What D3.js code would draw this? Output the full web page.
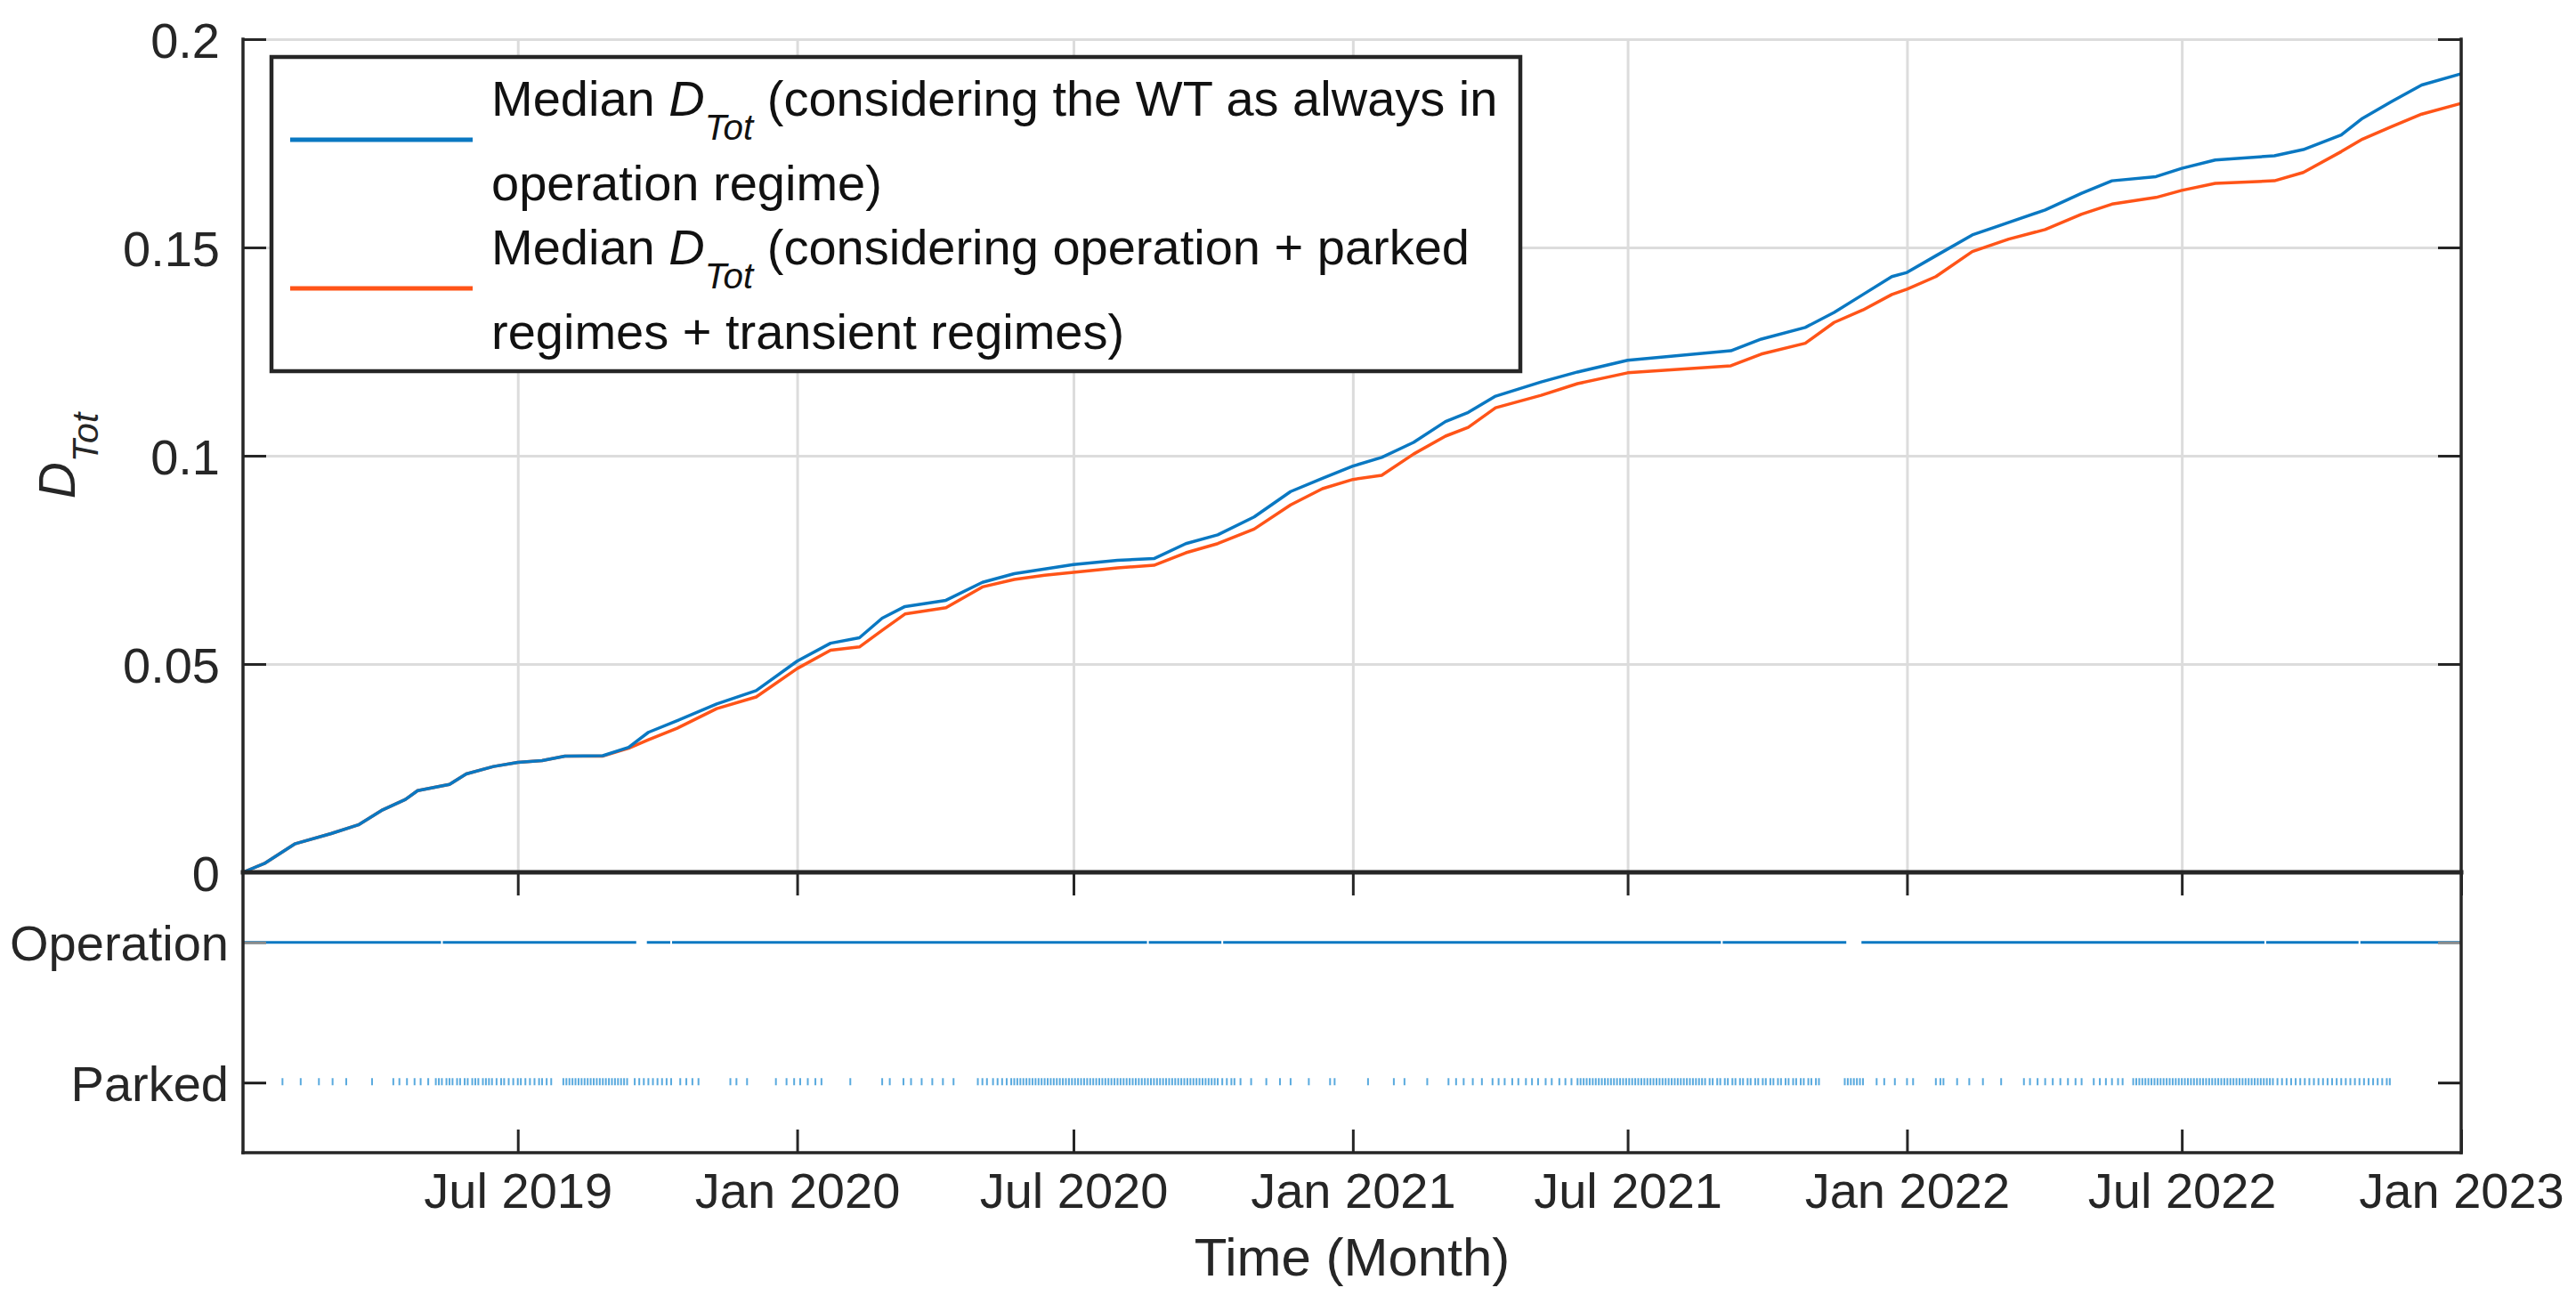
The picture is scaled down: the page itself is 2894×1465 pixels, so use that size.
<!DOCTYPE html>
<html>
<head>
<meta charset="utf-8">
<script src="https://cdn.jsdelivr.net/npm/d3@7"></script>
<style>
  html, body { margin: 0; padding: 0; background: #fff; }
  svg { display: block; font-family: "Liberation Sans", Arial, Helvetica, sans-serif; }
</style>
</head>
<body>
<svg id="chart" width="2894" height="1465"></svg>
<script>
// ---------------- DATA ----------------
const dates = [
  "2019-01-01","2019-01-15","2019-02-04","2019-02-28","2019-03-18","2019-04-03","2019-04-18","2019-04-26","2019-05-17","2019-05-28",
  "2019-06-15","2019-07-01","2019-07-17","2019-08-01","2019-08-26","2019-09-12","2019-09-25","2019-10-14","2019-11-09","2019-12-05",
  "2020-01-01","2020-01-23","2020-02-11","2020-02-26","2020-03-12","2020-04-08","2020-05-02","2020-05-23","2020-06-12","2020-07-01",
  "2020-07-30","2020-08-23","2020-09-13","2020-10-04","2020-10-28","2020-11-21","2020-12-12",
  "2021-01-01","2021-01-20","2021-02-10","2021-03-03","2021-03-18","2021-04-05","2021-05-05","2021-05-29","2021-07-01","2021-09-07",
  "2021-09-27","2021-10-26","2021-11-14","2021-12-03","2021-12-22",
  "2022-01-01","2022-01-20","2022-02-13","2022-03-09","2022-04-02","2022-04-26","2022-05-16","2022-06-14","2022-07-01","2022-07-23",
  "2022-08-31","2022-09-19","2022-10-14","2022-10-28","2022-11-16","2022-12-06",
  "2023-01-01"
];
const medianOperation = [
  0,0.0021,0.0068,0.0093,0.0114,0.015,0.0175,0.0196,0.0211,0.0236,
  0.0254,0.0264,0.0268,0.0279,0.0280,0.0300,0.0336,0.0364,0.0404,0.0436,
  0.0507,0.0550,0.0563,0.0610,0.0638,0.0653,0.0696,0.0717,0.0728,0.0739,
  0.0749,0.0753,0.0789,0.0810,0.0853,0.0914,0.0946,
  0.0975,0.0996,0.1032,0.1082,0.1104,0.1143,0.1177,0.1201,0.1229,0.1252,
  0.1280,0.1308,0.1344,0.1387,0.1430,
  0.1440,0.1480,0.1530,0.1560,0.1590,0.1630,0.1660,0.1670,0.1690,0.1710,
  0.1720,0.1735,0.1770,0.1810,0.1850,0.1890,
  0.1917
];
const medianAllRegimes = [
  0,0.0021,0.0068,0.0093,0.0114,0.015,0.0175,0.0196,0.0211,0.0236,
  0.0254,0.0264,0.0268,0.0279,0.0279,0.0298,0.0318,0.0346,0.0393,0.0421,
  0.0489,0.0533,0.0541,0.0581,0.0620,0.0635,0.0685,0.0703,0.0713,0.0720,
  0.0731,0.0737,0.0767,0.0789,0.0824,0.0882,0.0921,
  0.0943,0.0953,0.1004,0.1047,0.1068,0.1115,0.1145,0.1173,0.1199,0.1216,
  0.1244,0.1270,0.1320,0.1350,0.1387,
  0.1400,0.1430,0.1490,0.1520,0.1543,0.1580,0.1604,0.1620,0.1637,0.1654,
  0.1660,0.1680,0.1730,0.1760,0.1790,0.1820,
  0.1846
];
const yTicks = [0, 0.05, 0.1, 0.15, 0.2];
const yTickLabels = ["0", "0.05", "0.1", "0.15", "0.2"];
const xTickDates = ["2019-07-01","2020-01-01","2020-07-01","2021-01-01","2021-07-01","2022-01-01","2022-07-01","2023-01-01"];
const xTickLabels = ["Jul 2019","Jan 2020","Jul 2020","Jan 2021","Jul 2021","Jan 2022","Jul 2022","Jan 2023"];
const stateLabels = ["Operation", "Parked"];
// days since 2019-01-01 where the operation line is interrupted [start, end]
const operationGaps = [[130.4,131.6],[259,266],[281.4,282.6],[595.4,596.6],[644.4,645.6],[973.4,974.6],[1056,1066],[1331.4,1332.6],[1393.4,1394.6]];
// days since 2019-01-01 where the turbine is in parked regime
const parkedDays = [
  26,38,50,59,68,85,99,103,108,113,117,122,
  127,129,131,134,136,138,141,143,146,148,151,153,155,158,160,
  162,164,167,170,172,175,178,181,183,186,189,192,195,197,200,203,
  211,213,215,217,219,221,223,225,227,229,231,233,235,237,239,241,243,245,247,249,251,253,
  258,261,264,267,270,273,276,279,282,
  288,292,296,300,
  321,325,332,
  351,358,363,367,372,377,381,
  400,
  421,426,435,440,447,454,461,468,
  484,487,490,494,497,500,503,506,508,510,512,514,516,518,520,522,524,526,528,530,532,534,536,538,540,
  542,544,546,548,550,552,554,556,558,560,562,564,566,568,570,572,574,576,578,580,582,584,586,588,590,
  592,594,596,598,600,602,604,606,608,610,612,614,616,618,620,622,624,626,628,630,632,634,636,638,640,
  642,645,648,651,653,
  657,664,674,683,690,702,716,
  719,741,758,765,780,
  794,799,804,810,816,
  823,827,831,836,840,845,849,853,858,862,867,871,875,879,
  881,883,885,887,889,891,893,895,897,899,901,903,905,907,909,911,913,915,917,919,921,923,925,927,929,
  931,933,935,937,939,941,943,945,947,949,951,953,955,957,959,961,
  963,966,968,971,973,976,978,981,983,986,988,991,993,996,998,1001,1003,1006,1008,1011,1013,1016,1018,
  1021,1023,1026,1028,1031,1033,1036,1038,
  1055,1057,1059,1061,1063,1065,1067,
  1076,1081,1088,1096,1100,
  1115,1118,1120,
  1129,1137,1146,1158,
  1173,1177,1182,1187,1192,1197,1202,1207,1211,
  1219,1223,1227,1231,1235,1238,
  1245,1247,1249,1251,1253,1255,1257,1259,1261,1263,1265,1267,1269,1271,1273,1275,1277,1279,1281,1283,
  1285,1287,1289,1291,1293,1295,1297,1299,1301,1303,1305,1307,1309,1311,1313,1315,1317,1319,1321,1323,
  1325,1327,1329,1331,1333,1335,1337,
  1340,1343,1346,1349,1352,1355,1358,1361,1364,1367,1370,1373,1376,1379,1382,1385,1388,1391,1394,1397,
  1400,1403,1406,1409,1412,1414
];

// ---------------- LAYOUT ----------------
const L = 273, R = 2765, T = 44, Z = 980, B = 1295;
const FONT_TICK = 56, FONT_LABEL = 60, FONT_YLABEL = 57, FONT_LEG = 56;
const BLUE = "#0A78C2", ORANGE = "#FF5418", AXIS = "#262626", GRID = "#DCDCDC";

const parseDate = d3.utcParse("%Y-%m-%d");
const start = parseDate("2019-01-01");
const dayToDate = d => new Date(start.getTime() + d * 86400000);

const x = d3.scaleUtc().domain([start, parseDate("2023-01-01")]).range([L, R]);
const y = d3.scaleLinear().domain([0, 0.2]).range([Z, T]);
const yState = d3.scalePoint().domain(stateLabels).range([Z, B]).padding(0.5);

const svg = d3.select("#chart");
svg.append("rect").attr("width", 2894).attr("height", 1465).attr("fill", "#fff");

// ---------------- GRID (top panel) ----------------
const gx = svg.append("g").attr("transform", `translate(0,${Z})`)
  .call(d3.axisTop(x).tickValues(xTickDates.map(parseDate)).tickSize(Z - T).tickFormat(""));
gx.select(".domain").remove();
gx.selectAll("line").attr("stroke", GRID).attr("stroke-width", 3);

const gy = svg.append("g").attr("transform", `translate(${L},0)`)
  .call(d3.axisRight(y).tickValues(yTicks.filter(v => v > 0)).tickSize(R - L).tickFormat(""));
gy.select(".domain").remove();
gy.selectAll("line").attr("stroke", GRID).attr("stroke-width", 3);

// ---------------- CURVES ----------------
const series = [
  { values: medianAllRegimes, color: ORANGE },
  { values: medianOperation, color: BLUE }
];
const line = d3.line().x(d => x(d[0])).y(d => y(d[1])).curve(d3.curveLinear);
series.forEach(s => {
  const pts = dates.map((d, i) => [parseDate(d), s.values[i]]);
  svg.append("path").datum(pts)
    .attr("d", line).attr("fill", "none")
    .attr("stroke", s.color).attr("stroke-width", 3.5)
    .attr("stroke-linejoin", "round");
});

// ---------------- STATE PANEL ----------------
const opSegments = [];
let segStart = 0;
operationGaps.forEach(g => { opSegments.push([segStart, g[0]]); segStart = g[1]; });
opSegments.push([segStart, 1461]);
svg.append("g").selectAll("line").data(opSegments).join("line")
  .attr("x1", d => x(dayToDate(d[0]))).attr("x2", d => x(dayToDate(d[1])))
  .attr("y1", yState("Operation")).attr("y2", yState("Operation"))
  .attr("stroke", BLUE).attr("stroke-width", 3);

svg.append("g").selectAll("rect").data(parkedDays).join("rect")
  .attr("x", d => x(dayToDate(d)) - 1)
  .attr("y", yState("Parked") - 5)
  .attr("width", 2).attr("height", 8)
  .attr("fill", "#3D9BD8").attr("opacity", 0.85);

// ---------------- AXES ----------------
function styleAxis(g) {
  g.select(".domain").remove();
  g.selectAll("line").attr("stroke", AXIS).attr("stroke-width", 3);
  g.selectAll("text").attr("fill", "#262626").attr("font-size", FONT_TICK)
    .attr("font-family", '"Liberation Sans", Arial, sans-serif');
}

const ay = svg.append("g").attr("transform", `translate(${L},0)`)
  .call(d3.axisLeft(y).tickValues(yTicks).tickSize(-26).tickPadding(26)
    .tickFormat((d, i) => yTickLabels[i]));
styleAxis(ay);
ay.selectAll("text").attr("dy", "0.36em");
const ayr = svg.append("g").attr("transform", `translate(${R},0)`)
  .call(d3.axisRight(y).tickValues(yTicks).tickSize(-26).tickFormat(""));
styleAxis(ayr);

const as = svg.append("g").attr("transform", `translate(${L},0)`)
  .call(d3.axisLeft(yState).tickSize(-26).tickPadding(16));
styleAxis(as);
as.selectAll("text").attr("dy", "0.36em");
as.selectAll(".tick line").attr("stroke", (d) => d === "Operation" ? "#8a8a8a" : "#1a1a1a");
const asr = svg.append("g").attr("transform", `translate(${R},0)`)
  .call(d3.axisRight(yState).tickSize(-26).tickFormat(""));
styleAxis(asr);
asr.selectAll(".tick line").attr("stroke", (d) => d === "Operation" ? "#8a8a8a" : "#1a1a1a");

const axt = svg.append("g").attr("transform", `translate(0,${Z})`)
  .call(d3.axisBottom(x).tickValues(xTickDates.map(parseDate)).tickSize(26).tickFormat(""));
styleAxis(axt);
const axb = svg.append("g").attr("transform", `translate(0,${B})`)
  .call(d3.axisBottom(x).tickValues(xTickDates.map(parseDate)).tickSize(-26)
    .tickFormat((d, i) => xTickLabels[i]));
styleAxis(axb);
axb.selectAll("text").attr("y", 62).attr("dy", 0);

const frame = svg.append("g").attr("stroke", AXIS).attr("stroke-width", 3.5).attr("stroke-linecap", "square");
frame.append("line").attr("x1", L).attr("x2", L).attr("y1", T).attr("y2", B);
frame.append("line").attr("x1", R).attr("x2", R).attr("y1", T).attr("y2", B);
frame.append("line").attr("x1", L).attr("x2", R).attr("y1", B).attr("y2", B);
frame.append("line").attr("x1", L).attr("x2", R).attr("y1", Z).attr("y2", Z).attr("stroke-width", 5);

// ---------------- LABELS ----------------
svg.append("text")
  .attr("x", (L + R) / 2).attr("y", 1433)
  .attr("text-anchor", "middle").attr("font-size", FONT_LABEL).attr("fill", "#262626")
  .text("Time (Month)");

const yl = svg.append("text")
  .attr("transform", `translate(84,${(T + Z) / 2}) rotate(-90)`)
  .attr("text-anchor", "middle").attr("font-size", FONT_YLABEL).attr("fill", "#262626");
yl.append("tspan").attr("font-style", "italic").text("D");
yl.append("tspan").attr("font-style", "italic").attr("font-size", FONT_YLABEL * 0.72).attr("dy", 26).text("Tot");

// ---------------- LEGEND ----------------
const legend = svg.append("g");
legend.append("rect").attr("x", 305).attr("y", 64).attr("width", 1403).attr("height", 353)
  .attr("fill", "#fff").attr("stroke", AXIS).attr("stroke-width", 4.5);
const legendEntries = [
  { color: BLUE, lineY: 157, baselines: [130, 225], rest: " (considering the WT as always in", second: "operation regime)" },
  { color: ORANGE, lineY: 324, baselines: [297, 392], rest: " (considering operation + parked", second: "regimes + transient regimes)" }
];
legendEntries.forEach(e => {
  legend.append("line").attr("x1", 326).attr("x2", 531).attr("y1", e.lineY).attr("y2", e.lineY)
    .attr("stroke", e.color).attr("stroke-width", 5);
  const t = legend.append("text").attr("x", 552).attr("y", e.baselines[0])
    .attr("font-size", FONT_LEG).attr("fill", "#111");
  t.append("tspan").text("Median ");
  t.append("tspan").attr("font-style", "italic").text("D");
  t.append("tspan").attr("font-style", "italic").attr("font-size", FONT_LEG * 0.72).attr("dy", 27).text("Tot");
  t.append("tspan").attr("dy", -27).text(e.rest);
  legend.append("text").attr("x", 552).attr("y", e.baselines[1])
    .attr("font-size", FONT_LEG).attr("fill", "#111").text(e.second);
});
</script>
</body>
</html>
